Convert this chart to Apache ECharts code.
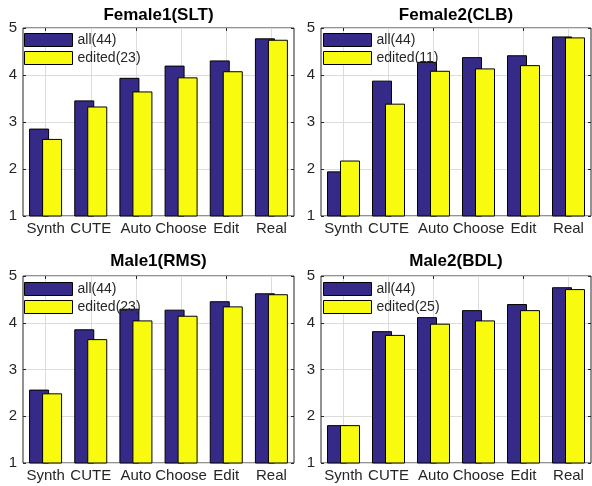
<!DOCTYPE html>
<html>
<head>
<meta charset="utf-8">
<script src="https://cdn.jsdelivr.net/npm/echarts@6/dist/echarts.min.js"></script>
<style>
html,body{margin:0;padding:0;background:#fff;}
#chart{width:592px;height:486px;}
</style>
</head>
<body>
<div id="chart"></div>
<script>
const categories = ['Synth', 'CUTE', 'Auto', 'Choose', 'Edit', 'Real'];
const panelTitles = ['Female1(SLT)', 'Female2(CLB)', 'Male1(RMS)', 'Male2(BDL)'];
const allNames = ['all(44)', 'all(44)', 'all(44)', 'all(44)'];
const editedNames = ['edited(23)', 'edited(11)', 'edited(23)', 'edited(25)'];
const female1All = [2.86, 3.46, 3.94, 4.20, 4.31, 4.78];
const female1Edited = [2.64, 3.33, 3.65, 3.95, 4.08, 4.75];
const female2All = [1.95, 3.88, 4.28, 4.38, 4.42, 4.82];
const female2Edited = [2.18, 3.39, 4.09, 4.14, 4.21, 4.80];
const male1All = [2.57, 3.86, 4.30, 4.28, 4.46, 4.63];
const male1Edited = [2.49, 3.65, 4.05, 4.15, 4.35, 4.61];
const male2All = [1.81, 3.82, 4.12, 4.27, 4.40, 4.76];
const male2Edited = [1.81, 3.74, 3.98, 4.05, 4.27, 4.72];
const yMin = 1, yMax = 5, yInterval = 1;

const allSeries = [female1All, female2All, male1All, male2All];
const editedSeries = [female1Edited, female2Edited, male1Edited, male2Edited];

const BLUE = '#352a87', YELLOW = '#f9fb0e', TXT = '#262626', GRID = '#dcdcdc';
const FONT = 'Liberation Sans, Arial, Helvetica, sans-serif';

const grids = [
  {left: 23, top: 28, width: 271, height: 188},
  {left: 321, top: 28, width: 270, height: 188},
  {left: 23, top: 276, width: 271, height: 187},
  {left: 321, top: 276, width: 270, height: 187}
];
const titleTops = [7, 7, 253, 253];
const legendPos = [
  {left: 24, top: 33}, {left: 323, top: 33}, {left: 24, top: 282}, {left: 323, top: 282}
];

const option = {
  backgroundColor: '#fff',
  animation: false,
  grid: grids.map(g => Object.assign({show: true, borderColor: TXT, borderWidth: 1, backgroundColor: 'transparent', containLabel: false}, g)),
  title: grids.map((g, i) => ({
    text: panelTitles[i],
    left: g.left + g.width / 2,
    top: titleTops[i],
    padding: 0,
    textAlign: 'center',
    textStyle: {fontFamily: FONT, fontSize: 17, fontWeight: 'bold', color: '#000'}
  })),
  legend: grids.map((g, i) => ({
    orient: 'vertical',
    left: legendPos[i].left,
    top: legendPos[i].top,
    padding: 0,
    itemWidth: 48,
    itemHeight: 13,
    itemGap: 4,
    selectedMode: false,
    icon: 'rect',
    textStyle: {fontFamily: FONT, fontSize: 14, color: TXT, lineHeight: 14},
    data: [
      {name: allNames[i], itemStyle: {color: BLUE, borderColor: '#000', borderWidth: 1}},
      {name: editedNames[i], itemStyle: {color: YELLOW, borderColor: '#000', borderWidth: 1}}
    ]
  })),
  xAxis: [],
  yAxis: [],
  series: []
};

grids.forEach((g, i) => {
  option.xAxis.push({
    type: 'category', gridIndex: i, data: categories, position: 'bottom',
    axisLine: {show: false},
    axisTick: {show: true, inside: true, length: 3, alignWithLabel: true, lineStyle: {color: TXT}},
    axisLabel: {fontFamily: FONT, fontSize: 15, color: TXT, margin: 5, interval: 0},
    splitLine: {show: true, alignWithLabel: true, lineStyle: {color: GRID, width: 1}}
  });
  option.xAxis.push({
    type: 'category', gridIndex: i, data: categories, position: 'top',
    axisLine: {show: false},
    axisTick: {show: true, inside: true, length: 3, alignWithLabel: true, lineStyle: {color: TXT}},
    axisLabel: {show: false},
    splitLine: {show: false}
  });
  option.yAxis.push({
    type: 'value', gridIndex: i, min: yMin, max: yMax, interval: yInterval, position: 'left',
    axisLine: {show: false},
    axisTick: {show: true, inside: true, length: 3, lineStyle: {color: TXT}},
    axisLabel: {fontFamily: FONT, fontSize: 15, color: TXT, margin: 6},
    splitLine: {show: true, lineStyle: {color: GRID, width: 1}}
  });
  option.yAxis.push({
    type: 'value', gridIndex: i, min: yMin, max: yMax, interval: yInterval, position: 'right',
    axisLine: {show: false},
    axisTick: {show: true, inside: true, length: 3, lineStyle: {color: TXT}},
    axisLabel: {show: false},
    splitLine: {show: false}
  });
  option.series.push({
    type: 'bar', name: allNames[i], xAxisIndex: 2 * i, yAxisIndex: 2 * i,
    data: allSeries[i], barWidth: 20, barGap: '-35%',
    itemStyle: {color: BLUE, borderColor: '#000', borderWidth: 1},
    z: 2
  });
  option.series.push({
    type: 'bar', name: editedNames[i], xAxisIndex: 2 * i, yAxisIndex: 2 * i,
    data: editedSeries[i], barWidth: 20, barGap: '-35%',
    itemStyle: {color: YELLOW, borderColor: '#000', borderWidth: 1},
    z: 3
  });
});

const chart = echarts.init(document.getElementById('chart'), null, {renderer: 'canvas'});
chart.setOption(option);
</script>
</body>
</html>
